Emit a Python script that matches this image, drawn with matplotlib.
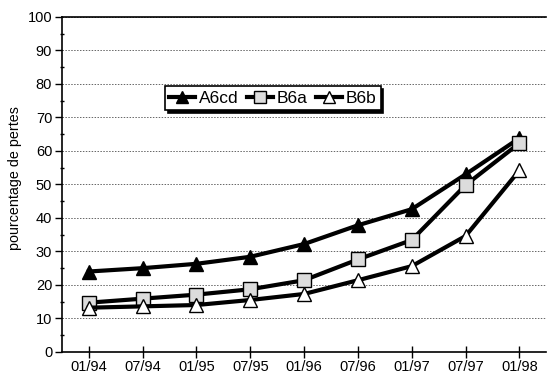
import numpy as np
import matplotlib.pyplot as plt
from matplotlib.ticker import MultipleLocator

plt.rcParams['font.family'] = ['Liberation Sans', 'DejaVu Sans']

dates = ["01/94", "07/94", "01/95", "07/95", "01/96", "07/96", "01/97", "07/97", "01/98"]
a6cd = [24, 25, 26.3, 28.4, 32.2, 37.8, 42.6, 53, 63.8]
b6a = [14.7, 15.9, 17.1, 18.7, 21.4, 27.6, 33.4, 49.8, 62.3]
b6b = [13.2, 13.6, 14, 15.5, 17.3, 21.4, 25.6, 34.6, 54.2]

fig = plt.figure(figsize=(5.48, 3.74), dpi=100)
ax = fig.add_axes([0.113, 0.059, 0.884, 0.896])

x = np.arange(len(dates))
ax.plot(x, a6cd, color='black', lw=3, marker='^', ms=10,
        mfc='black', mec='black', label='A6cd', zorder=3)
ax.plot(x, b6a, color='black', lw=3, marker='s', ms=10,
        mfc='#dcdcdc', mec='black', mew=1, label='B6a', zorder=3)
ax.plot(x, b6b, color='black', lw=3, marker='^', ms=10,
        mfc='white', mec='black', mew=1, label='B6b', zorder=3)

ax.set_xlim(-0.5, len(dates) - 0.5)
ax.set_ylim(0, 100)
ax.set_xticks(x)
ax.set_xticklabels(dates, fontsize=10.5)
ax.yaxis.set_major_locator(MultipleLocator(10))
ax.yaxis.set_minor_locator(MultipleLocator(5))
ax.tick_params(axis='y', which='major', direction='out', length=5, width=1, labelsize=10.5, pad=2)
ax.tick_params(axis='y', which='minor', direction='inout', length=3, width=1)
ax.tick_params(axis='x', which='major', direction='inout', length=8, width=1, pad=2)

ax.grid(axis='y', which='major', linestyle=(0, (1.5, 1.5)), color='#666666', lw=0.7)
ax.set_axisbelow(True)
ax.spines['right'].set_visible(False)
for s in ['left', 'bottom', 'top']:
    ax.spines[s].set_linewidth(1.2)

ax.set_ylabel('pourcentage de pertes', fontsize=10.3, labelpad=3)
ax.yaxis.set_label_coords(-0.082, 0.52)

leg = ax.legend(loc='center', bbox_to_anchor=(0.435, 0.757), ncol=3, fontsize=12.5,
                frameon=True, fancybox=False, edgecolor='black',
                shadow={'color': 'black', 'alpha': 1},
                handlelength=1.5, handletextpad=0.2, columnspacing=0.5,
                borderpad=0.25, borderaxespad=0, markerscale=0.8)
leg.get_frame().set_linewidth(1.2)

fig.savefig('out.png', dpi=100)
